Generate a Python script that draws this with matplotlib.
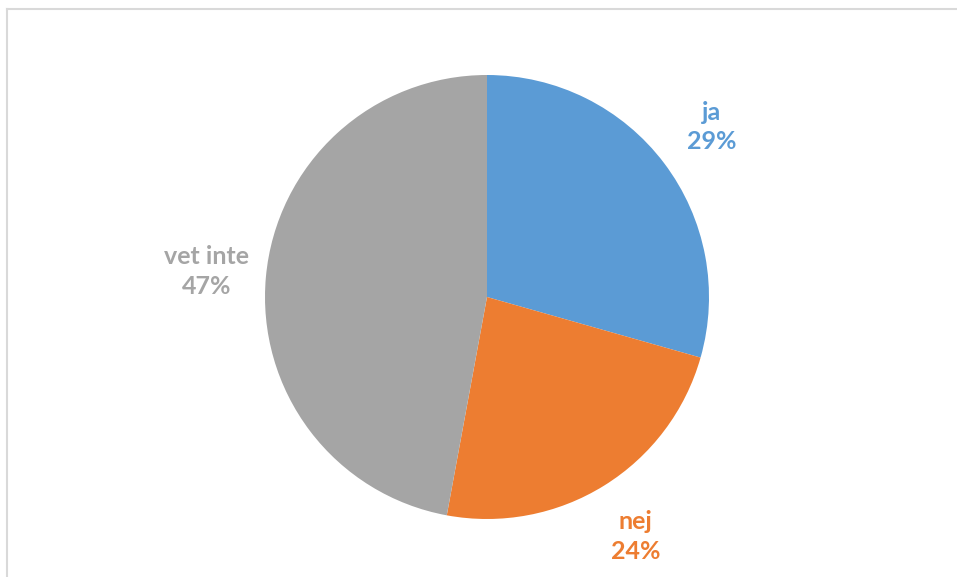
import matplotlib
matplotlib.use("Agg")
import matplotlib.pyplot as plt
from matplotlib.lines import Line2D

# survey answers (shares; labels show rounded %)
categories = ["ja", "nej", "vet inte"]
shares = [29.4, 23.5, 47.1]
colors = ["#5B9BD5", "#ED7D31", "#A5A5A5"]

plt.rcParams['font.family'] = ['Lato', 'DejaVu Sans']

fig = plt.figure(figsize=(9.57, 5.77), dpi=100)
ax = fig.add_axes([0, 0, 1, 1])
ax.set_xlim(0, 957)
ax.set_ylim(0, 577)
ax.set_aspect('equal')

labels = [f"{c}\n{round(s):d}%" for c, s in zip(categories, shares)]
wedges, texts = ax.pie(shares, colors=colors, startangle=90, counterclock=False,
                       center=(487, 280), radius=222, labels=labels,
                       labeldistance=1.27, frame=True,
                       wedgeprops=dict(linewidth=0))
ax.axis('off')
for t, c in zip(texts, colors):
    t.set_color(c)
    t.set_fontsize(18)
    t.set_fontweight('bold')
    t.set_ha('center')
    t.set_va('center')
    t.set_linespacing(1.35)

# chart frame (only top and left edges visible in the crop)
fig.add_artist(Line2D([7.5 / 957, 7.5 / 957], [0, 1 - 8.5 / 577],
                      transform=fig.transFigure, color="#D9D9D9", lw=1.5))
fig.add_artist(Line2D([7.5 / 957, 1], [1 - 8.5 / 577, 1 - 8.5 / 577],
                      transform=fig.transFigure, color="#D9D9D9", lw=1.5))

fig.savefig("out.png", dpi=100)
